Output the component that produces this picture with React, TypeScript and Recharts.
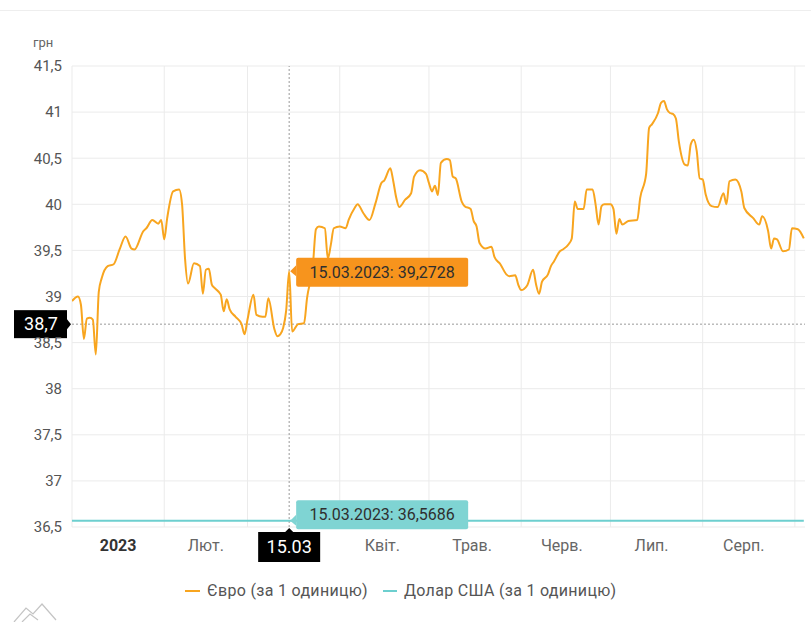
import React from 'react';
import { LineChart, Line, XAxis, YAxis, CartesianGrid, ReferenceLine, ReferenceDot } from 'recharts';

const YEAR = 2023;

// Official NBU rate, EUR, 2023 (MM-DD)
const euroDates = [
  '01-01', '01-03', '01-04', '01-05', '01-06', '01-07', '01-08', '01-09', '01-10', '01-11',
  '01-13', '01-15', '01-17', '01-19', '01-21', '01-22', '01-25', '01-26', '01-28', '01-30',
  '01-31', '02-01', '02-02', '02-04', '02-06', '02-07', '02-08', '02-09', '02-11', '02-13',
  '02-14', '02-15', '02-16', '02-17', '02-18', '02-20', '02-21', '02-22', '02-23', '02-25',
  '02-27', '02-28', '03-01', '03-03', '03-04', '03-06', '03-07', '03-08', '03-10', '03-11',
  '03-12', '03-13', '03-14', '03-15', '03-16', '03-18', '03-20', '03-21', '03-23', '03-24',
  '03-25', '03-27', '03-28', '03-29', '03-30', '04-01', '04-03', '04-04', '04-06', '04-07',
  '04-09', '04-11', '04-13', '04-15', '04-16', '04-18', '04-19', '04-20', '04-21', '04-23',
  '04-25', '04-26', '04-28', '04-30', '05-01', '05-02', '05-03', '05-04', '05-05', '05-07',
  '05-08', '05-09', '05-10', '05-12', '05-13', '05-15', '05-16', '05-17', '05-18', '05-20',
  '05-22', '05-23', '05-25', '05-27', '05-28', '05-30', '05-31', '06-01', '06-03', '06-05',
  '06-06', '06-07', '06-08', '06-10', '06-11', '06-12', '06-14', '06-15', '06-17', '06-18',
  '06-19', '06-20', '06-22', '06-23', '06-25', '06-26', '06-27', '06-28', '06-29', '07-01',
  '07-02', '07-03', '07-04', '07-05', '07-07', '07-10', '07-11', '07-13', '07-14', '07-15',
  '07-17', '07-18', '07-19', '07-20', '07-21', '07-22', '07-23', '07-24', '07-26', '07-27',
  '07-28', '07-29', '07-30', '07-31', '08-01', '08-02', '08-04', '08-06', '08-08', '08-09',
  '08-10', '08-12', '08-14', '08-15', '08-18', '08-20', '08-21', '08-23', '08-24', '08-25',
  '08-26', '08-28', '08-30', '08-31', '09-02', '09-04',
];

const euroRates = [
  38.95, 39.0, 38.91, 38.54, 38.76, 38.77, 38.75, 38.37, 39.05, 39.2,
  39.33, 39.35, 39.51, 39.65, 39.52, 39.51, 39.71, 39.74, 39.83, 39.79,
  39.83, 39.62, 39.85, 40.14, 40.16, 40.0, 39.41, 39.14, 39.36, 39.33,
  39.03, 39.29, 39.3, 39.13, 39.09, 39.02, 38.84, 38.97, 38.86, 38.78,
  38.7, 38.59, 38.75, 39.02, 38.8, 38.78, 38.78, 38.98, 38.65, 38.57,
  38.59, 38.66, 38.85, 39.2728, 38.62, 38.7, 38.71, 38.98, 39.35, 39.73,
  39.76, 39.74, 39.41, 39.56, 39.74, 39.76, 39.74, 39.83, 39.96, 40.0,
  39.9, 39.83, 40.01, 40.23, 40.26, 40.39, 40.25, 40.07, 39.97, 40.05,
  40.12, 40.3, 40.37, 40.33, 40.23, 40.14, 40.2, 40.1, 40.45, 40.49,
  40.48, 40.3, 40.28, 40.03, 39.98, 39.95, 39.82, 39.76, 39.58, 39.52,
  39.54, 39.43, 39.35, 39.24, 39.22, 39.23, 39.13, 39.07, 39.12, 39.29,
  39.13, 39.03, 39.16, 39.24, 39.33, 39.38, 39.49, 39.51, 39.57, 39.63,
  40.03, 39.95, 39.95, 40.16, 40.16, 40.0, 39.78, 39.98, 40.0, 40.0,
  39.95, 39.68, 39.84, 39.78, 39.82, 39.83, 40.07, 40.33, 40.83, 40.87,
  40.99, 41.1, 41.12, 41.03, 40.99, 40.98, 40.93, 40.68, 40.43, 40.42,
  40.65, 40.7, 40.58, 40.28, 40.27, 40.11, 39.98, 39.97, 40.12, 40.0,
  40.25, 40.27, 40.14, 39.96, 39.85, 39.78, 39.87, 39.71, 39.52, 39.63,
  39.62, 39.49, 39.51, 39.74, 39.73, 39.63,
];

// USD rate stayed fixed over the whole period
const usdDates = ['01-01', '09-04'];
const usdRates = [36.5686, 36.5686];

const monthStarts = ['01-01', '02-01', '03-01', '04-01', '05-01', '06-01', '07-01', '08-01', '09-01'];
const monthLabels = ['2023', 'Лют.', '', 'Квіт.', 'Трав.', 'Черв.', 'Лип.', 'Серп.'];

const yTicks = [36.5, 37, 37.5, 38, 38.5, 39, 39.5, 40, 40.5, 41, 41.5];

const cursorDate = '03-15';
const cursorEuro = 39.2728;
const cursorUsd = 36.5686;
const cursorLevel = 38.7;

const EURO_COLOR = '#f8a51f';
const USD_COLOR = '#6dcfcf';

const dayOf = (mmdd: string) => {
  const [m, d] = mmdd.split('-').map(Number);
  return (Date.UTC(YEAR, m - 1, d) - Date.UTC(YEAR, 0, 1)) / 86400000;
};

const fmt = (v: number) => String(v).replace('.', ',');
const dm = (mmdd: string) => mmdd.split('-').reverse().join('.');

const euroData = euroDates.map((d, i) => ({ day: dayOf(d), euro: euroRates[i] }));
const usdData = usdDates.map((d, i) => ({ day: dayOf(d), usd: usdRates[i] }));

const gridDays = monthStarts.map(dayOf);
const labelTicks = monthLabels
  .map((label, i) => ({ label, day: (gridDays[i] + gridDays[i + 1]) / 2 }))
  .filter((t) => t.label !== '');

const labelByDay: Record<number, string> = {};
labelTicks.forEach((t) => { labelByDay[t.day] = t.label; });

const MonthTick = (props: any) => {
  const { x, y, payload } = props;
  const label = labelByDay[payload.value];
  const isYear = label === '2023';
  // labels sit a little left of the month middle
  const shift = isYear ? 0 : -Math.min(5, (payload.value - 45) / 30);
  return (
    <text x={x + shift} y={y} dy="0.71em" textAnchor="middle" fontSize={16}
      fill={isYear ? '#333' : '#666'} fontWeight={isYear ? 700 : 400}>
      {label}
    </text>
  );
};

// hover balloons attached to the series points
const makeBalloon = (fill: string, text: string, lift: number) => (props: any) => {
  const { cx, cy } = props;
  const x0 = cx + 7;
  const w = 172;
  const h = 29;
  const top = cy - h / 2 - lift;
  return (
    <g>
      <polygon points={`${cx + 1},${cy} ${x0},${cy - 6} ${x0},${cy + 5}`} fill={fill} />
      <rect x={x0} y={top} width={w} height={h} rx={2} fill={fill} />
      <text x={x0 + w / 2} y={top + h / 2} dy="0.35em" textAnchor="middle" fontSize={16} fill="#2f2f2f">
        {text}
      </text>
    </g>
  );
};

const EuroBalloon = makeBalloon('#f7941d', `${dm(cursorDate)}.${YEAR}: ${fmt(cursorEuro)}`, -1);
const UsdBalloon = makeBalloon('#7fd4d3', `${dm(cursorDate)}.${YEAR}: ${fmt(cursorUsd)}`, 6);

const DateCursorLabel = (props: any) => {
  const { viewBox } = props;
  const cx = viewBox.x;
  const bottom = viewBox.y + viewBox.height;
  return (
    <g>
      <polygon points={`${cx - 5},${bottom + 6} ${cx},${bottom + 1} ${cx + 5},${bottom + 6}`} fill="#000" />
      <rect x={cx - 31} y={bottom + 5} width={62} height={30} fill="#000" />
      <text x={cx} y={bottom + 20} dy="0.35em" textAnchor="middle" fontSize={18} fill="#fff">
        {dm(cursorDate)}
      </text>
    </g>
  );
};

const LevelCursorLabel = (props: any) => {
  const { viewBox } = props;
  const left = viewBox.x;
  const cy = viewBox.y;
  return (
    <g>
      <polygon points={`${left - 5},${cy - 5} ${left - 1},${cy} ${left - 5},${cy + 5}`} fill="#000" />
      <rect x={left - 58} y={cy - 14} width={53} height={28} fill="#000" />
      <text x={left - 31} y={cy} dy="0.35em" textAnchor="middle" fontSize={18} fill="#fff">
        {fmt(cursorLevel)}
      </text>
    </g>
  );
};

export default function App() {
  const cursorDay = dayOf(cursorDate);
  return (
    <div style={{ position: 'relative', width: 811, height: 622, fontFamily: 'Roboto, sans-serif', background: '#fff', overflow: 'hidden' }}>
      <style>{'body{margin:0}'}</style>
      <div style={{ position: 'absolute', left: 0, right: 0, top: 10, height: 1, background: '#eeeeee' }} />
      <div style={{ position: 'absolute', left: 33, top: 35, fontSize: 13, color: '#666' }}>грн</div>

      <LineChart width={811} height={622} data={euroData} margin={{ top: 66, right: 6, bottom: 55, left: 0 }}>
        <CartesianGrid vertical={false} stroke="#ebebeb" />
        {gridDays.map((d) => (
          <ReferenceLine key={d} x={d} stroke="#ebebeb" zIndex={-100} />
        ))}
        <XAxis
          type="number"
          dataKey="day"
          domain={[0, 246.4]}
          ticks={labelTicks.map((t) => t.day)}
          tick={<MonthTick />}
          axisLine={false}
          tickLine={false}
          tickSize={8}
          tickMargin={5}
          height={40}
          allowDataOverflow
        />
        <YAxis
          domain={[36.5, 41.5]}
          ticks={yTicks}
          tickFormatter={fmt}
          axisLine={false}
          tickLine={false}
          tickSize={6}
          tickMargin={4}
          width={72}
          tick={{ fontSize: 15, fill: '#555' }}
          allowDataOverflow
        />
        <ReferenceLine x={cursorDay} stroke="#9a9a9a" strokeDasharray="2 2" label={<DateCursorLabel />} />
        <ReferenceLine y={cursorLevel} stroke="#9a9a9a" strokeDasharray="2 2" label={<LevelCursorLabel />} />
        <Line data={usdData} dataKey="usd" type="linear" stroke={USD_COLOR} strokeWidth={2} dot={false} isAnimationActive={false} />
        <Line dataKey="euro" type="monotone" stroke={EURO_COLOR} strokeWidth={2} dot={false} isAnimationActive={false} />
        <ReferenceDot x={cursorDay} y={cursorEuro} r={0} shape={EuroBalloon} zIndex={1500} />
        <ReferenceDot x={cursorDay} y={cursorUsd} r={0} shape={UsdBalloon} zIndex={1500} />
      </LineChart>

      <div style={{ position: 'absolute', left: 185, top: 581, display: 'flex', alignItems: 'center', fontSize: 16, letterSpacing: 0.3, color: '#555' }}>
        <span style={{ width: 15, height: 2, background: EURO_COLOR, marginRight: 7 }} />
        <span>Євро (за 1 одиницю)</span>
        <span style={{ width: 14, height: 2, background: USD_COLOR, marginLeft: 15, marginRight: 7 }} />
        <span>Долар США (за 1 одиницю)</span>
      </div>

      <svg style={{ position: 'absolute', left: 0, top: 600 }} width={70} height={22}>
        <path d="M14 22 L26 8 L33 14 L42 4 L56 20" fill="none" stroke="#c4c4c4" strokeWidth={1.2} />
        <path d="M22 22 L30 14 L38 20" fill="none" stroke="#c4c4c4" strokeWidth={1.2} />
      </svg>
    </div>
  );
}
